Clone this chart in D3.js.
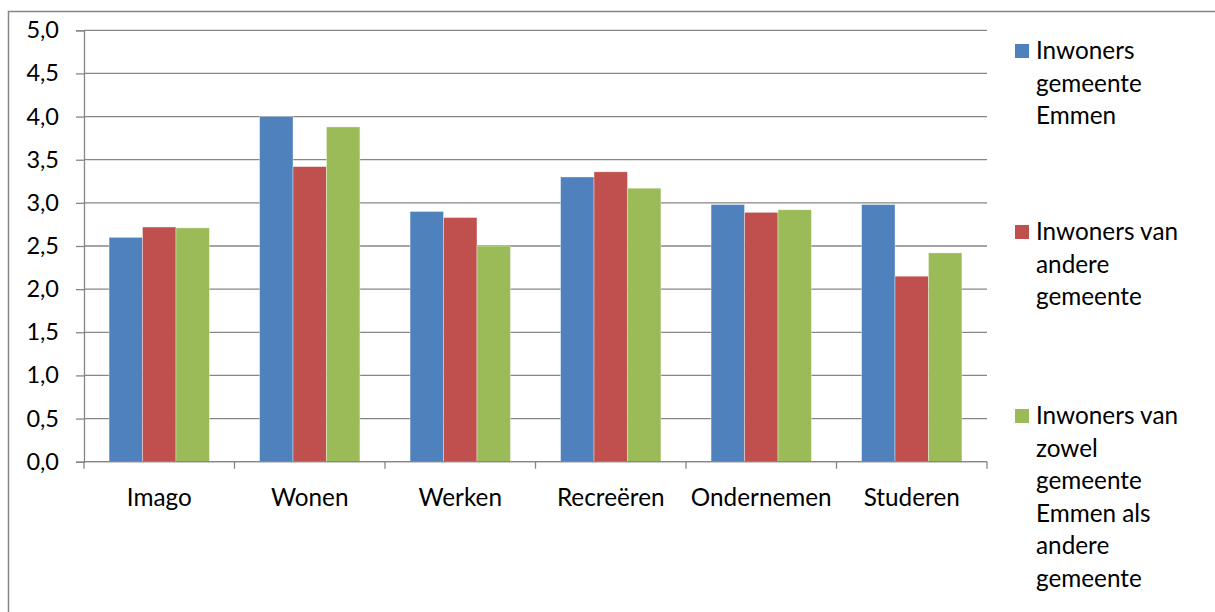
<!DOCTYPE html>
<html>
<head>
<meta charset="utf-8">
<script src="https://cdn.jsdelivr.net/npm/d3@7"></script>
<style>
  html, body { margin: 0; padding: 0; background: #fff; }
  svg { display: block; }
  text { font-family: Lato, "Open Sans", sans-serif; fill: #000; }
</style>
</head>
<body>
<div id="chart"></div>
<script>
const CATEGORIES = ['Imago', 'Wonen', 'Werken', 'Recreëren', 'Ondernemen', 'Studeren'];
const SERIES = ['emmen', 'andere', 'beide'];
const EMMEN = [2.60, 4.00, 2.90, 3.30, 2.98, 2.98];
const ANDERE = [2.72, 3.42, 2.83, 3.36, 2.89, 2.15];
const BEIDE = [2.71, 3.88, 2.50, 3.17, 2.92, 2.42];
const Y_TICKS = [0, 0.5, 1, 1.5, 2, 2.5, 3, 3.5, 4, 4.5, 5];
const LEGEND_LINES = [
  ['Inwoners', 'gemeente', 'Emmen'],
  ['Inwoners van', 'andere', 'gemeente'],
  ['Inwoners van', 'zowel', 'gemeente', 'Emmen als', 'andere', 'gemeente']
];

(function() {
  const W = 1215, H = 612;
  const COLORS = { emmen: '#4F81BD', andere: '#C0504D', beide: '#9BBB59' };
  const GRID = '#868686';
  const FONT_SIZE = 24.3;
  const values = { emmen: EMMEN, andere: ANDERE, beide: BEIDE };

  const plot = { left: 84, right: 987, top: 30.3, bottom: 461.7 };

  const svg = d3.select('#chart').append('svg')
    .attr('width', W).attr('height', H);

  // chart frame (runs off the right/bottom edge like the screenshot)
  svg.append('rect')
    .attr('x', 8.5).attr('y', 11.5)
    .attr('width', W + 50).attr('height', H + 50)
    .attr('fill', 'none')
    .attr('stroke', GRID)
    .attr('stroke-width', 1.5);

  const x = d3.scaleBand().domain(CATEGORIES).range([plot.left, plot.right]).padding(0);
  const xs = d3.scaleBand().domain(SERIES).range([0, x.bandwidth()]).paddingInner(0).paddingOuter(0.75);
  const y = d3.scaleLinear().domain([0, 5]).range([plot.bottom, plot.top]);

  const nl = d3.formatLocale({ decimal: ',', thousands: '.', grouping: [3], currency: ['€', ''] });
  const fmt = nl.format('.1f');

  // gridlines
  svg.append('g')
    .selectAll('line')
    .data(Y_TICKS)
    .join('line')
    .attr('x1', plot.left).attr('x2', plot.right)
    .attr('y1', d => y(d)).attr('y2', d => y(d))
    .attr('stroke', GRID)
    .attr('stroke-width', 1.3);

  // y axis
  const yAxis = svg.append('g')
    .attr('transform', `translate(${plot.left},0)`)
    .call(d3.axisLeft(y).tickValues(Y_TICKS).tickFormat(fmt).tickSize(8).tickPadding(17));
  yAxis.select('.domain').attr('stroke', GRID).attr('stroke-width', 1.3);
  yAxis.selectAll('.tick line').attr('stroke', GRID).attr('stroke-width', 1.3);
  yAxis.selectAll('.tick text')
    .style('font-family', 'Lato, "Open Sans", sans-serif')
    .attr('font-size', 23.5)
    .attr('fill', '#000');

  // bars
  const groups = svg.append('g')
    .selectAll('g')
    .data(CATEGORIES)
    .join('g')
    .attr('transform', d => `translate(${x(d)},0)`);

  groups.selectAll('rect')
    .data((d, i) => SERIES.map(s => ({ s, v: values[s][i] })))
    .join('rect')
    .attr('x', d => xs(d.s))
    .attr('width', xs.bandwidth())
    .attr('y', d => y(d.v))
    .attr('height', d => y(0) - y(d.v))
    .attr('fill', d => COLORS[d.s])
    .attr('stroke', '#fff')
    .attr('stroke-opacity', 0.45)
    .attr('stroke-width', 0.8);

  // x axis line + boundary ticks
  const xAxis = svg.append('g');
  xAxis.append('line')
    .attr('x1', plot.left).attr('x2', plot.right)
    .attr('y1', y(0)).attr('y2', y(0))
    .attr('stroke', GRID).attr('stroke-width', 1.3);
  const bounds = CATEGORIES.map(c => x(c)).concat([plot.right]);
  xAxis.selectAll('line.tk')
    .data(bounds)
    .join('line')
    .attr('class', 'tk')
    .attr('x1', d => d).attr('x2', d => d)
    .attr('y1', y(0)).attr('y2', y(0) + 7)
    .attr('stroke', GRID).attr('stroke-width', 1.3);
  xAxis.selectAll('text')
    .data(CATEGORIES)
    .join('text')
    .attr('x', d => x(d) + x.bandwidth() / 2)
    .attr('y', 506)
    .attr('text-anchor', 'middle')
    .attr('font-size', FONT_SIZE)
    .text(d => d);

  // legend
  const LEGEND_TOP = [59, 240, 424];
  const lineH = 32.6;
  const legend = svg.append('g');
  LEGEND_LINES.forEach((lines, i) => {
    const g = legend.append('g');
    g.append('rect')
      .attr('x', 1015).attr('y', LEGEND_TOP[i] - 15)
      .attr('width', 14).attr('height', 14)
      .attr('fill', COLORS[SERIES[i]]);
    g.selectAll('text')
      .data(lines)
      .join('text')
      .attr('x', 1036)
      .attr('y', (d, j) => LEGEND_TOP[i] + j * lineH)
      .attr('font-size', FONT_SIZE)
      .text(d => d);
  });
})();
</script>
</body>
</html>
